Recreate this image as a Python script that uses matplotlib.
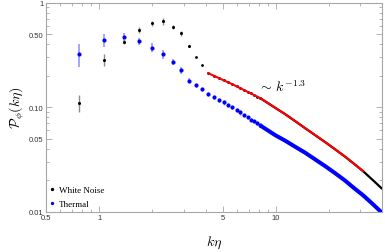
import matplotlib
matplotlib.use('Agg')
import matplotlib.pyplot as plt
from matplotlib.ticker import FixedLocator, FixedFormatter, NullFormatter
from matplotlib.lines import Line2D

plt.rcParams['mathtext.fontset'] = 'cm'

# ---- data ----
k_sparse = [0.767, 1.067, 1.379, 1.684, 1.994, 2.30, 2.61, 2.92, 3.22]
wn_sparse = [0.110, 0.285, 0.424, 0.552, 0.639, 0.664, 0.585, 0.510, 0.383]
wn_err = [0.020, 0.037, 0.024, 0.034, 0.036, 0.046, 0.030, 0.026, 0.010]
th_sparse = [0.323, 0.440, 0.473, 0.427, 0.371, 0.321, 0.269, 0.226, 0.180]
th_err = [0.083, 0.065, 0.045, 0.031, 0.037, 0.029, 0.018, 0.016, 0.010]

k_mid = [3.53, 3.84, 4.14, 4.45, 4.76, 5.06, 5.37, 5.68, 5.99, 6.30, 6.60,
         6.91, 7.22, 7.52, 7.83, 8.14]
wn_mid = [0.304, 0.255, 0.2115, 0.200, 0.190, 0.181, 0.173, 0.1656, 0.1584,
          0.1518, 0.146, 0.1404, 0.1354, 0.1308, 0.1265, 0.1222]
th_mid = [0.163, 0.149, 0.134, 0.125, 0.118, 0.111, 0.105, 0.0995, 0.094,
          0.089, 0.084, 0.080, 0.076, 0.073, 0.070, 0.067]
th_mid_err = [0.008, 0.007, 0.006, 0.005, 0.005, 0.005, 0.004, 0.004, 0.004,
              0.004, 0.003, 0.003, 0.003, 0.003, 0.003, 0.003]

k_tail = [8.14, 9.0, 10.0, 11.24, 12.8, 14.59, 16.6, 18.94, 21.6, 24.58,
          27.7, 31.07, 35.2, 40.0]
wn_tail = [0.1222, 0.1096, 0.0977, 0.0861, 0.0739, 0.0632, 0.0543, 0.0465,
           0.0396, 0.0337, 0.0287, 0.0245, 0.0202, 0.0165]
th_tail = [0.067, 0.060, 0.0535, 0.048, 0.042, 0.0368, 0.0318, 0.0274,
           0.0234, 0.0199, 0.0168, 0.0144, 0.0119, 0.0097]

fit_k = [4.14, 4.45, 4.76, 5.06, 5.37, 5.68, 5.99, 6.30, 6.60, 6.91, 7.22,
         7.52, 7.83, 8.14, 9.0, 10.0, 11.24, 12.8, 14.59, 16.6, 18.94, 21.6,
         24.58, 27.7, 31.07]
fit_v = [0.2115, 0.200, 0.190, 0.181, 0.173, 0.1656, 0.1584, 0.1518, 0.146,
         0.1404, 0.1354, 0.1308, 0.1265, 0.1222, 0.1096, 0.0977, 0.0861,
         0.0739, 0.0632, 0.0543, 0.0465, 0.0396, 0.0337, 0.0287, 0.0245]

x_ticks = [0.5, 1, 5, 10]
x_ticklabels = ['0.5', '1', '5', '10']
x_minor = [0.6, 0.7, 0.8, 0.9, 2, 3, 4, 6, 7, 8, 9, 20, 30]
y_ticks = [0.01, 0.05, 0.10, 0.50, 1]
y_ticklabels = ['0.01', '0.05', '0.10', '0.50', '1']
y_minor = [0.02, 0.03, 0.04, 0.06, 0.07, 0.08, 0.09, 0.2, 0.3, 0.4,
           0.6, 0.7, 0.8, 0.9]

# ---- figure ----
fig = plt.figure(figsize=(3.85, 2.53), dpi=100)
ax = fig.add_axes([46 / 385, 40.3 / 253, 336.3 / 385, 209 / 253])
ax.set_xscale('log')
ax.set_yscale('log')

blue = '#0000ff'
# thermal
ax.errorbar(k_sparse, th_sparse, yerr=th_err, fmt='o', color=blue, ms=3.0,
            mew=0, ecolor='#8c8cff', elinewidth=1.1, capsize=0, zorder=3)
ax.errorbar(k_mid, th_mid, yerr=th_mid_err, fmt='o', color=blue, ms=3.0,
            mew=0, ecolor='#8c8cff', elinewidth=1.0, capsize=0, zorder=3)
ax.plot(k_tail, th_tail, '-', color=blue, lw=2.9, solid_capstyle='butt',
        zorder=3)

# white noise
ax.errorbar(k_sparse, wn_sparse, yerr=wn_err, fmt='o', color='black', ms=2.2,
            mew=0, ecolor='#8a8a8a', elinewidth=1.0, capsize=0, zorder=4)
ax.plot(k_mid, wn_mid, 'o', color='black', ms=2.0, mew=0, zorder=4)
ax.plot(k_tail, wn_tail, '-', color='black', lw=1.6, solid_capstyle='butt',
        zorder=4)

# fit
ax.plot(fit_k, fit_v, '-', color='#ff0000', lw=1.5, zorder=5)
ax.text(7.9, 0.158, r'$\sim\, k^{-1.3}$', fontsize=10, ha='left',
        va='center', zorder=6)

ax.set_xlim(0.5, 40)
ax.set_ylim(0.01, 1)

ax.xaxis.set_major_locator(FixedLocator(x_ticks))
ax.xaxis.set_major_formatter(FixedFormatter(x_ticklabels))
ax.xaxis.set_minor_locator(FixedLocator(x_minor))
ax.xaxis.set_minor_formatter(NullFormatter())
ax.yaxis.set_major_locator(FixedLocator(y_ticks))
ax.yaxis.set_major_formatter(FixedFormatter(y_ticklabels))
ax.yaxis.set_minor_locator(FixedLocator(y_minor))
ax.yaxis.set_minor_formatter(NullFormatter())

spine_c = '#a6a6a6'
for s in ax.spines.values():
    s.set_color(spine_c)
    s.set_linewidth(0.8)
ax.tick_params(which='both', direction='in', top=True, right=True,
               color=spine_c, width=0.6, labelsize=5.5, labelcolor='#333333',
               pad=2)
ax.tick_params(which='major', length=4)
ax.tick_params(which='minor', length=2)
for lbl in ax.get_xticklabels() + ax.get_yticklabels():
    lbl.set_family('Liberation Sans')

ax.set_xlabel(r'$k\eta$', fontsize=10, labelpad=9)
ax.set_ylabel(r'$\mathcal{P}_\phi(k\eta)$', fontsize=10, labelpad=1)

handles = [Line2D([], [], ls='none', marker='o', color='black', ms=2.4, mew=0),
           Line2D([], [], ls='none', marker='o', color=blue, ms=2.4, mew=0)]
ax.legend(handles, ['White Noise', 'Thermal'], loc='lower left',
          bbox_to_anchor=(0.0, 0.0), frameon=False, handlelength=0.6,
          handletextpad=0.4, borderaxespad=0.2, borderpad=0.2,
          labelspacing=0.6, prop={'family': 'Liberation Serif', 'size': 6.5})

fig.savefig('out.png', dpi=100)
